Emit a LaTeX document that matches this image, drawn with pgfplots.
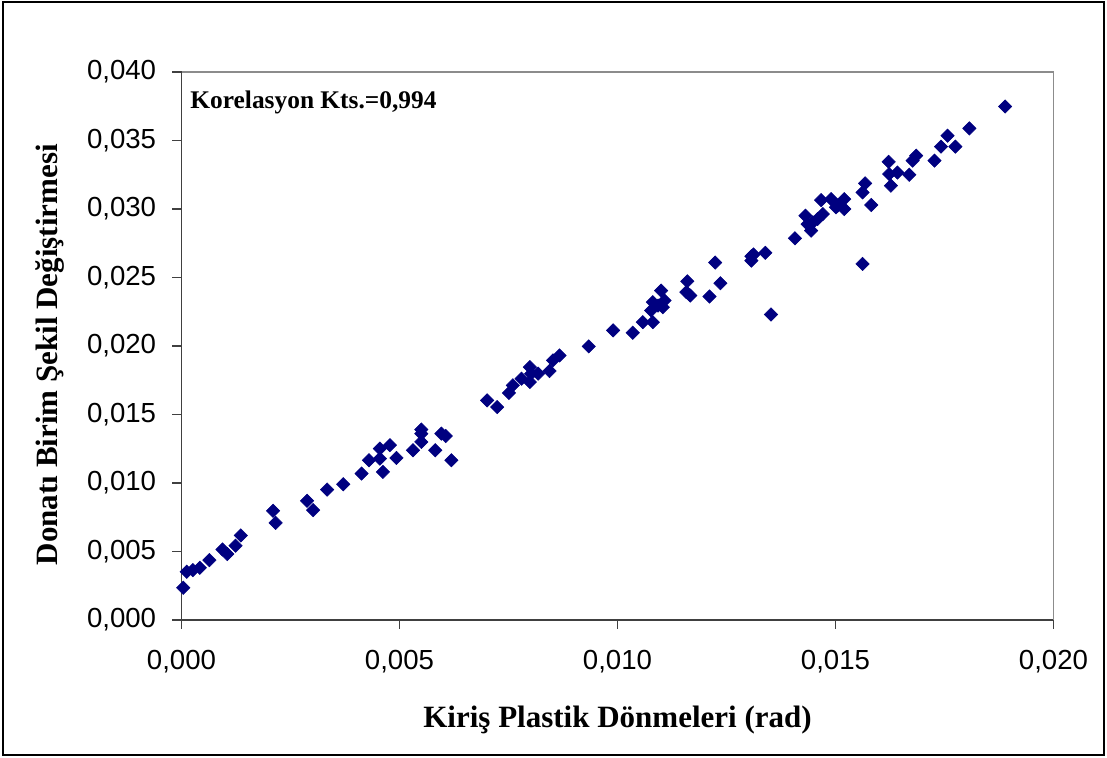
\documentclass[border=0pt]{standalone}
\usepackage{pgfplots}
\pgfplotsset{compat=1.18}
\usepackage{fontspec}
\setmainfont{Liberation Serif}
\newfontfamily\arialf{Liberation Sans}
\definecolor{navyc}{HTML}{000080}
\definecolor{spine}{HTML}{404040}
\definecolor{frame}{HTML}{8C8C8C}
\pgfplotstableread{
x y
0.00004 0.00235
0.00012 0.00352
0.00026 0.00364
0.00042 0.00381
0.00064 0.00437
0.00094 0.00515
0.00105 0.00481
0.00124 0.00542
0.00136 0.00617
0.00210 0.00797
0.00216 0.00709
0.00288 0.00870
0.00302 0.00802
0.00334 0.00952
0.00371 0.00991
0.00413 0.01069
0.00430 0.01166
0.00455 0.01251
0.00455 0.01178
0.00462 0.01081
0.00478 0.01276
0.00493 0.01183
0.00531 0.01239
0.00550 0.01390
0.00550 0.01360
0.00550 0.01300
0.00582 0.01239
0.00596 0.01360
0.00606 0.01343
0.00619 0.01166
0.00701 0.01603
0.00724 0.01554
0.00751 0.01657
0.00760 0.01713
0.00780 0.01761
0.00799 0.01846
0.00802 0.01798
0.00799 0.01737
0.00818 0.01798
0.00844 0.01817
0.00852 0.01895
0.00867 0.01931
0.00934 0.01997
0.00990 0.02114
0.01035 0.02097
0.01058 0.02174
0.01081 0.02174
0.01077 0.02259
0.01081 0.02320
0.01100 0.02404
0.01093 0.02295
0.01108 0.02332
0.01104 0.02283
0.01160 0.02472
0.01158 0.02393
0.01167 0.02368
0.01211 0.02361
0.01224 0.02609
0.01236 0.02458
0.01307 0.02655
0.01312 0.02668
0.01307 0.02623
0.01339 0.02680
0.01352 0.02230
0.01407 0.02786
0.01431 0.02951
0.01436 0.02890
0.01444 0.02842
0.01448 0.02903
0.01459 0.02927
0.01471 0.02963
0.01467 0.03065
0.01490 0.03072
0.01505 0.03024
0.01520 0.03072
0.01520 0.03000
0.01501 0.03012
0.01562 0.02599
0.01562 0.03121
0.01568 0.03187
0.01582 0.03029
0.01622 0.03344
0.01623 0.03255
0.01627 0.03170
0.01642 0.03266
0.01669 0.03250
0.01677 0.03353
0.01685 0.03389
0.01727 0.03353
0.01742 0.03455
0.01757 0.03535
0.01775 0.03455
0.01807 0.03588
0.01889 0.03748
}\datatable
\begin{document}
\begin{tikzpicture}
\useasboundingbox (0,0) rectangle (553.5pt,379pt);
\fill[white] (0,0) rectangle (553.5pt,379pt);
\draw[line width=1pt,black] (1.25pt,1.25pt) rectangle (551.75pt,377.75pt);
\begin{axis}[
  anchor=south west, at={(90.75pt,69pt)},
  scale only axis, width=436pt, height=274pt,
  xmin=0, xmax=0.020, ymin=0, ymax=0.040,
  xtick={0,0.005,...,0.0201}, ytick={0,0.005,...,0.0401},
  scaled ticks=false,
  axis x line*=bottom, axis y line*=left,
  axis line style={spine, line width=0.9pt},
  major tick style={spine, line width=0.9pt},
  tick align=outside, major tick length=4.5pt,
  xticklabel style={font=\arialf\fontsize{13.8}{16}\selectfont, inner sep=0pt, yshift=-10.5pt},
  yticklabel style={font=\arialf\fontsize{13.8}{16}\selectfont, inner sep=0pt, xshift=-8pt},
  /pgf/number format/assume math mode=true,
  /pgf/number format/.cd, fixed, fixed zerofill, precision=3, use comma,
  /pgfplots/.cd,
  xlabel={\bfseries\fontsize{15.5}{18}\selectfont Kiriş Plastik Dönmeleri (rad)},
  ylabel={\bfseries\fontsize{15.5}{18}\selectfont Donatı Birim Şekil Değiştirmesi},
  xlabel style={at={(rel axis cs:0.5,0)}, anchor=center, yshift=-50pt},
  ylabel style={at={(rel axis cs:0,0.484)}, anchor=center, yshift=65.5pt},
  clip=false,
  after end axis/.code={
    \draw[frame, line width=0.9pt] (rel axis cs:0,1) -- (rel axis cs:1,1) -- (rel axis cs:1,0);
  },
]
\addplot[only marks, mark=square*, mark size=2.35pt,
  mark options={rotate=45, fill=navyc, draw=navyc, line width=0.3pt}]
  table[x=x, y=y] {\datatable};
\node[anchor=base west, inner sep=0pt, font=\bfseries\fontsize{12.7}{14}\selectfont]
  at (rel axis cs:0.00975,0.934) {Korelasyon Kts.=0,994};
\end{axis}
\end{tikzpicture}
\end{document}
